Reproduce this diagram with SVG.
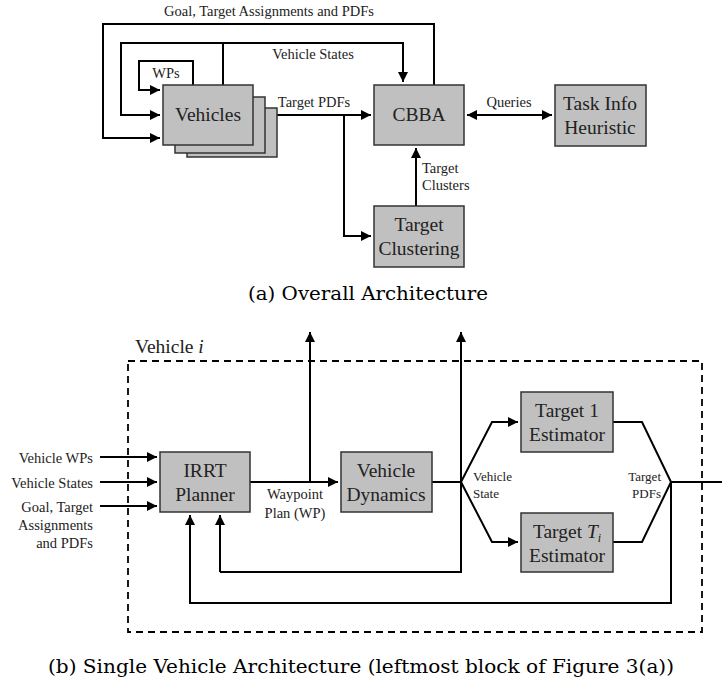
<svg xmlns="http://www.w3.org/2000/svg" width="722" height="688" viewBox="0 0 722 688">
<defs>
<marker id="ah" viewBox="0 0 10 10" refX="10" refY="5" markerWidth="10" markerHeight="10" markerUnits="userSpaceOnUse" orient="auto-start-reverse">
<path d="M0,0 L10,5 L0,10 z" fill="#000"/>
</marker>
<style>
text{font-family:"Liberation Serif","DejaVu Serif","Times New Roman",serif}
.box{fill:#c0c0c0;stroke:#333;stroke-width:1.5}
.ln{fill:none;stroke:#000;stroke-width:2}
.bl{font-size:19.5px;text-anchor:middle;fill:#222}
.lb{font-size:14.5px;fill:#222}
.sm{font-size:13px;fill:#222}
.cap{font-family:"DejaVu Serif","Liberation Serif",serif;font-size:18px;text-anchor:middle;fill:#000}
</style>
</defs>
<rect width="722" height="688" fill="#fff"/>

<!-- (a) Overall Architecture -->
<g id="connectors-a">
<path class="ln" d="M434,85 V24 H103 V138 H160" marker-end="url(#ah)"/>
<path class="ln" d="M223,85 V43 H121 V115 H160" marker-end="url(#ah)"/>
<path class="ln" d="M223,43 H403 V82" marker-end="url(#ah)"/>
<path class="ln" d="M193,85 V61 H139 V90 H160" marker-end="url(#ah)"/>
<path class="ln" d="M253,115 H371" marker-end="url(#ah)"/>
<path class="ln" d="M344,115 V236 H371" marker-end="url(#ah)"/>
<path class="ln" d="M416,206 V148" marker-end="url(#ah)"/>
<path class="ln" d="M467,115 H552" marker-start="url(#ah)" marker-end="url(#ah)"/>
</g>
<text class="lb" x="269" y="16" text-anchor="middle">Goal, Target Assignments and PDFs</text>
<text class="lb" x="313" y="59" text-anchor="middle">Vehicle States</text>
<text class="lb" x="166" y="78" text-anchor="middle">WPs</text>
<text class="lb" x="314" y="107" text-anchor="middle">Target PDFs</text>
<text class="lb" x="509" y="107" text-anchor="middle">Queries</text>
<text class="lb" x="422" y="173">Target</text>
<text class="lb" x="422" y="190">Clusters</text>

<g id="vehicles">
<rect class="box" x="187" y="108" width="90" height="49"/>
<rect class="box" x="175" y="97" width="90" height="56"/>
<rect class="box" x="163" y="85" width="90" height="60"/>
<text class="bl" x="208" y="121">Vehicles</text>
</g>
<g id="cbba">
<rect class="box" x="374" y="85" width="90" height="60"/>
<text class="bl" x="419" y="121">CBBA</text>
</g>
<g id="task-info">
<rect class="box" x="555" y="85" width="91" height="61"/>
<text class="bl" x="600" y="110">Task Info</text>
<text class="bl" x="600" y="134">Heuristic</text>
</g>
<g id="target-clustering">
<rect class="box" x="374" y="206" width="90" height="61"/>
<text class="bl" x="419" y="231">Target</text>
<text class="bl" x="419" y="255">Clustering</text>
</g>
<text class="cap" x="368" y="300" textLength="240" lengthAdjust="spacingAndGlyphs">(a) Overall Architecture</text>

<!-- (b) Single Vehicle Architecture -->
<g id="vehicle-i">
<rect x="128" y="361" width="574" height="271" fill="none" stroke="#000" stroke-width="1.8" stroke-dasharray="7,5"/>
<text x="135" y="353" font-size="19.5" fill="#222">Vehicle <tspan font-style="italic">i</tspan></text>
</g>
<g id="connectors-b">
<path class="ln" d="M100,457 H157" marker-end="url(#ah)"/>
<path class="ln" d="M100,482 H157" marker-end="url(#ah)"/>
<path class="ln" d="M100,506 H157" marker-end="url(#ah)"/>
<path class="ln" d="M250,482 H338" marker-end="url(#ah)"/>
<path class="ln" d="M310,482 V332" marker-end="url(#ah)"/>
<path class="ln" d="M432,482 H461"/>
<path class="ln" d="M220,572 H461 V332" marker-end="url(#ah)"/>
<path class="ln" d="M220,572 V515" marker-end="url(#ah)"/>
<path class="ln" d="M461,482 L492,422 H518" marker-end="url(#ah)"/>
<path class="ln" d="M461,482 L492,542 H518" marker-end="url(#ah)"/>
<path class="ln" d="M613,422 H642 L671,482 L642,542 H613"/>
<path class="ln" d="M671,482 H722"/>
<path class="ln" d="M671,482 V603 H190 V515" marker-end="url(#ah)"/>
</g>
<text class="lb" x="93" y="463" text-anchor="end">Vehicle WPs</text>
<text class="lb" x="93" y="488" text-anchor="end">Vehicle States</text>
<text class="lb" x="93" y="512" text-anchor="end">Goal, Target</text>
<text class="lb" x="93" y="530" text-anchor="end">Assignments</text>
<text class="lb" x="93" y="548" text-anchor="end">and PDFs</text>
<text class="lb" x="295" y="499" text-anchor="middle">Waypoint</text>
<text class="lb" x="295" y="518" text-anchor="middle">Plan (WP)</text>
<text class="sm" x="473" y="481">Vehicle</text>
<text class="sm" x="473" y="498">State</text>
<text class="sm" x="661" y="481" text-anchor="end">Target</text>
<text class="sm" x="661" y="498" text-anchor="end">PDFs</text>

<g id="irrt-planner">
<rect class="box" x="160" y="452" width="90" height="60"/>
<text class="bl" x="205" y="477">IRRT</text>
<text class="bl" x="205" y="501">Planner</text>
</g>
<g id="vehicle-dynamics">
<rect class="box" x="341" y="452" width="91" height="60"/>
<text class="bl" x="386" y="477">Vehicle</text>
<text class="bl" x="386" y="501">Dynamics</text>
</g>
<g id="target-1-estimator">
<rect class="box" x="521" y="392" width="92" height="60"/>
<text class="bl" x="567" y="417">Target 1</text>
<text class="bl" x="567" y="441">Estimator</text>
</g>
<g id="target-ti-estimator">
<rect class="box" x="521" y="513" width="92" height="59"/>
<text class="bl" x="567" y="538">Target <tspan font-style="italic">T</tspan><tspan font-style="italic" font-size="12" dy="4">i</tspan></text>
<text class="bl" x="567" y="562">Estimator</text>
</g>
<text class="cap" x="361" y="673" textLength="626" lengthAdjust="spacingAndGlyphs">(b) Single Vehicle Architecture (leftmost block of Figure 3(a))</text>
</svg>
